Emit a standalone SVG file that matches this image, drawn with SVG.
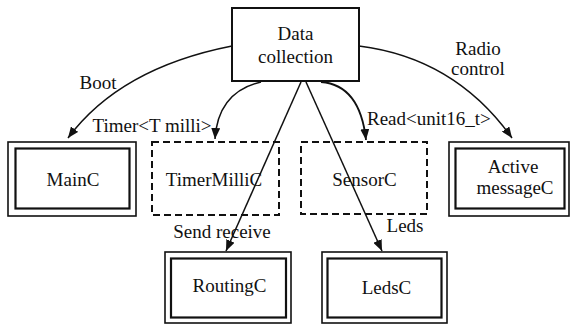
<svg xmlns="http://www.w3.org/2000/svg" width="571" height="324" viewBox="0 0 571 324" font-family="'Liberation Serif', 'DejaVu Serif', serif" font-size="19">
  <style>
    text { font-family: "Liberation Serif", "DejaVu Serif", serif; font-size: 19px; fill: #111; }
    .c { text-anchor: middle; }
    .box { fill: #fff; stroke: #111; stroke-width: 2; }
    .outer { fill: #fff; stroke: #111; stroke-width: 1.6; }
    .inner { fill: none; stroke: #111; stroke-width: 2.2; }
    .dash { fill: #fff; stroke: #111; stroke-width: 2; stroke-dasharray: 7 4; }
    .wire { fill: none; stroke: #111; stroke-width: 1.5; marker-end: url(#arrow); }
  </style>
  <defs>
    <marker id="arrow" markerUnits="userSpaceOnUse" markerWidth="11" markerHeight="9" refX="11" refY="4.5" orient="auto">
      <path d="M0,0 L11,4.5 L0,9 z" fill="#111"/>
    </marker>
  </defs>
  <rect width="571" height="324" fill="#fff"/>

  <g id="data-collection">
    <rect class="box" x="232" y="8" width="127" height="73"/>
    <text class="c" x="295.5" y="40">Data</text>
    <text class="c" x="295.5" y="63">collection</text>
  </g>

  <g id="mainc">
    <rect class="outer" x="8" y="142" width="128" height="74"/>
    <rect class="inner" x="15.5" y="148.5" width="114" height="60"/>
    <text class="c" x="73" y="186">MainC</text>
  </g>

  <g id="timermillic">
    <rect class="dash" x="152" y="142" width="127" height="73"/>
    <text class="c" x="214" y="186">TimerMilliC</text>
  </g>

  <g id="sensorc">
    <rect class="dash" x="301" y="142" width="126" height="72"/>
    <text class="c" x="364.5" y="186">SensorC</text>
  </g>

  <g id="activemessagec">
    <rect class="outer" x="449" y="142" width="120" height="74"/>
    <rect class="inner" x="455.5" y="148.5" width="109" height="60"/>
    <text class="c" x="513" y="173">Active</text>
    <text class="c" x="515" y="194">messageC</text>
  </g>

  <g id="routingc">
    <rect class="outer" x="165" y="252" width="126" height="71"/>
    <rect class="inner" x="171" y="258.5" width="115" height="59"/>
    <text class="c" x="229.5" y="292">RoutingC</text>
  </g>

  <g id="ledsc">
    <rect class="outer" x="322" y="252" width="125" height="71"/>
    <rect class="inner" x="327.5" y="258.5" width="114" height="59"/>
    <text class="c" x="386.5" y="294">LedsC</text>
  </g>

  <g id="connectors">
    <path class="wire" d="M232,46 Q120,68 68,138"/>
    <path class="wire" d="M261,82 Q218,92 215,139"/>
    <path class="wire" d="M301,82 L226,251"/>
    <path class="wire" d="M306,82 L382,251"/>
    <path class="wire" d="M321,82 Q360,85 366,140" style="stroke-width:1.8"/>
    <path class="wire" d="M359,46 Q455,58 512,138"/>
    <text class="c" x="98" y="89">Boot</text>
    <text class="c" x="152" y="132">Timer&lt;T milli&gt;</text>
    <text x="367" y="125">Read&lt;unit16_t&gt;</text>
    <text class="c" x="478" y="55">Radio</text>
    <text class="c" x="478" y="75">control</text>
    <text class="c" x="222" y="238">Send receive</text>
    <text class="c" x="405" y="232">Leds</text>
  </g>
</svg>
